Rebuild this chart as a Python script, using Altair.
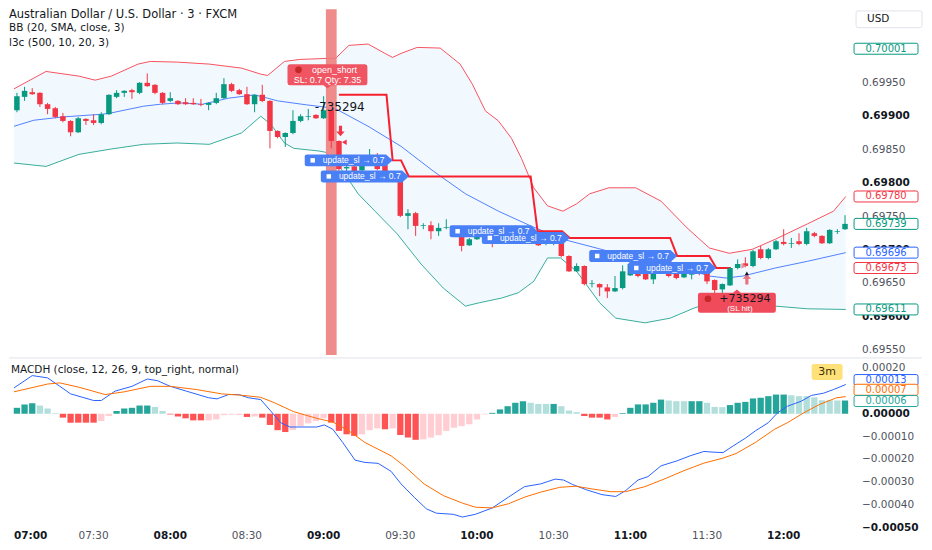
import altair as alt
import numpy as np
import pandas as pd

# ---------------- layout / style ----------------
W, H1, H2, GAP = 845, 346, 167, 1
X_DOMAIN = [-0.38, 108.4]
P_DOMAIN = [0.69543, 0.70060]
M_DOMAIN = [-0.00049, 0.00024]
FONT = "DejaVu Sans"
LFONT = "Liberation Sans"
INK = "#131722"
GREY = "#50535E"
GREEN, RED, BLUE, ORANGE = "#089981", "#F23645", "#2962FF", "#FF6D00"

# ---------------- data ----------------
TIME_TICKS = [0, 10, 20, 30, 40, 50, 60, 70, 80, 90, 100]
TIME_LABELS = ["07:00", "07:30", "08:00", "08:30", "09:00", "09:30",
               "10:00", "10:30", "11:00", "11:30", "12:00"]
PRICE_TICKS = [0.6955, 0.6960, 0.6965, 0.6970, 0.6975, 0.6980, 0.6985, 0.6990, 0.6995]
MACD_TICKS = [0.0002, 0.0, -0.0001, -0.0002, -0.0003, -0.0004, -0.0005]

# 3-minute candles, 07:00 ... 12:24
OPEN = [0.69909, 0.69929, 0.69936, 0.69935, 0.69918, 0.69912, 0.69900, 0.69893, 0.69876, 0.69896,
        0.69894, 0.69890, 0.69903, 0.69929, 0.69935, 0.69939, 0.69935, 0.69950, 0.69947, 0.69935,
        0.69923, 0.69923, 0.69921, 0.69920, 0.69918, 0.69917, 0.69920, 0.69927, 0.69948, 0.69939,
        0.69933, 0.69918, 0.69932, 0.69923, 0.69878, 0.69869, 0.69875, 0.69893, 0.69899, 0.69902,
        0.69897, 0.69909, 0.69863, 0.69822, 0.69825, 0.69819, 0.69834, 0.69842, 0.69827, 0.69806,
        0.69810, 0.69751, 0.69755, 0.69736, 0.69737, 0.69728, 0.69733, 0.69734, 0.69727, 0.69707,
        0.69716, 0.69724, 0.69731, 0.69713, 0.69724, 0.69731, 0.69733, 0.69725, 0.69713, 0.69709,
        0.69712, 0.69716, 0.69691, 0.69668, 0.69676, 0.69649, 0.69649, 0.69644, 0.69638, 0.69643,
        0.69662, 0.69676, 0.69668, 0.69656, 0.69665, 0.69685, 0.69664, 0.69659, 0.69663, 0.69665,
        0.69668, 0.69655, 0.69641, 0.69647, 0.69673, 0.69680, 0.69676, 0.69701, 0.69688, 0.69701,
        0.69712, 0.69709, 0.69713, 0.69709, 0.69725, 0.69721, 0.69710, 0.69727, 0.69731]
HIGH = [0.69935, 0.69944, 0.69942, 0.69936, 0.69920, 0.69914, 0.69905, 0.69894, 0.69899, 0.69897,
        0.69903, 0.69906, 0.69933, 0.69939, 0.69939, 0.69941, 0.69951, 0.69964, 0.69948, 0.69936,
        0.69936, 0.69924, 0.69927, 0.69927, 0.69926, 0.69921, 0.69935, 0.69957, 0.69950, 0.69941,
        0.69944, 0.69933, 0.69947, 0.69924, 0.69879, 0.69876, 0.69909, 0.69903, 0.69911, 0.69903,
        0.69930, 0.69911, 0.69864, 0.69836, 0.69840, 0.69836, 0.69851, 0.69845, 0.69828, 0.69815,
        0.69812, 0.69761, 0.69757, 0.69740, 0.69743, 0.69740, 0.69746, 0.69736, 0.69728, 0.69718,
        0.69725, 0.69734, 0.69733, 0.69725, 0.69733, 0.69737, 0.69734, 0.69727, 0.69715, 0.69716,
        0.69718, 0.69718, 0.69692, 0.69680, 0.69677, 0.69655, 0.69650, 0.69649, 0.69661, 0.69677,
        0.69680, 0.69685, 0.69670, 0.69667, 0.69685, 0.69686, 0.69665, 0.69665, 0.69671, 0.69667,
        0.69670, 0.69656, 0.69650, 0.69674, 0.69686, 0.69689, 0.69700, 0.69706, 0.69703, 0.69715,
        0.69731, 0.69718, 0.69725, 0.69733, 0.69727, 0.69722, 0.69731, 0.69731, 0.69752]
LOW = [0.69906, 0.69923, 0.69932, 0.69914, 0.69903, 0.69897, 0.69891, 0.69870, 0.69875, 0.69887,
       0.69887, 0.69888, 0.69902, 0.69927, 0.69929, 0.69926, 0.69933, 0.69944, 0.69933, 0.69918,
       0.69921, 0.69917, 0.69917, 0.69917, 0.69915, 0.69909, 0.69918, 0.69926, 0.69936, 0.69932,
       0.69917, 0.69906, 0.69921, 0.69852, 0.69867, 0.69854, 0.69873, 0.69891, 0.69894, 0.69896,
       0.69896, 0.69852, 0.69812, 0.69810, 0.69816, 0.69818, 0.69833, 0.69819, 0.69803, 0.69803,
       0.69749, 0.69731, 0.69721, 0.69731, 0.69716, 0.69721, 0.69731, 0.69724, 0.69698, 0.69706,
       0.69715, 0.69722, 0.69704, 0.69712, 0.69722, 0.69725, 0.69722, 0.69709, 0.69706, 0.69707,
       0.69707, 0.69689, 0.69667, 0.69667, 0.69647, 0.69644, 0.69631, 0.69628, 0.69637, 0.69641,
       0.69661, 0.69659, 0.69655, 0.69649, 0.69664, 0.69659, 0.69656, 0.69658, 0.69656, 0.69662,
       0.69649, 0.69635, 0.69634, 0.69646, 0.69671, 0.69674, 0.69674, 0.69686, 0.69686, 0.69700,
       0.69707, 0.69703, 0.69707, 0.69707, 0.69719, 0.69709, 0.69709, 0.69724, 0.69730]
CLOSE = [0.69930, 0.69938, 0.69933, 0.69918, 0.69911, 0.69899, 0.69893, 0.69876, 0.69897, 0.69893,
         0.69890, 0.69903, 0.69932, 0.69935, 0.69938, 0.69936, 0.69950, 0.69945, 0.69935, 0.69920,
         0.69927, 0.69918, 0.69918, 0.69918, 0.69917, 0.69920, 0.69927, 0.69948, 0.69938, 0.69933,
         0.69918, 0.69932, 0.69923, 0.69878, 0.69869, 0.69875, 0.69893, 0.69900, 0.69900, 0.69897,
         0.69909, 0.69863, 0.69821, 0.69824, 0.69818, 0.69834, 0.69842, 0.69821, 0.69807, 0.69810,
         0.69751, 0.69755, 0.69736, 0.69737, 0.69728, 0.69733, 0.69734, 0.69725, 0.69706, 0.69716,
         0.69724, 0.69731, 0.69709, 0.69724, 0.69731, 0.69733, 0.69724, 0.69710, 0.69707, 0.69710,
         0.69713, 0.69691, 0.69668, 0.69676, 0.69649, 0.69650, 0.69644, 0.69638, 0.69643, 0.69668,
         0.69679, 0.69661, 0.69656, 0.69665, 0.69683, 0.69661, 0.69658, 0.69664, 0.69664, 0.69664,
         0.69653, 0.69640, 0.69649, 0.69673, 0.69679, 0.69676, 0.69698, 0.69688, 0.69701, 0.69713,
         0.69709, 0.69710, 0.69709, 0.69728, 0.69721, 0.69710, 0.69730, 0.69728, 0.69739]

# Bollinger bands (20, 3) read at sample bars
UP_I = [-0.38, 3.8, 8.1, 10.2, 12.3, 15.8, 17.4, 20.9, 25.1, 29.3, 31.8, 32.7, 34.9, 36.9, 41.6,
        43.3, 45.8, 48, 49, 50.1, 52.2, 55.2, 57.8, 59.4, 61.1, 62.8, 64.5, 65.8, 67.4, 69.2,
        71.2, 73, 74.7, 77.2, 80.7, 84, 87.4, 90.3, 92.9, 95.9, 98.9, 103.1, 106.5, 108.1]
UP_P = [0.69941, 0.69967, 0.69960, 0.69954, 0.69960, 0.69978, 0.69982, 0.69981, 0.69978, 0.69972,
        0.69963, 0.69961, 0.69982, 0.69985, 0.69987, 0.70006, 0.70008, 0.69994, 0.69988, 0.69994,
        0.70003, 0.70002, 0.69978, 0.69948, 0.69908, 0.69893, 0.69867, 0.69837, 0.69793, 0.69766,
        0.69758, 0.69769, 0.69784, 0.69793, 0.69793, 0.69773, 0.69733, 0.69703, 0.69695, 0.69701,
        0.69716, 0.69739, 0.69758, 0.69780]
MID_I = [-0.38, 2.2, 6, 11.1, 12.3, 16.5, 18.7, 21.2, 24.2, 27.6, 31, 32.7, 34, 37.8, 40, 41.6,
         45.8, 50.1, 54.3, 58.5, 62.8, 67, 71.2, 77.2, 81.9, 86.1, 90.3, 92.5, 94.7, 98.9, 103.1, 108.1]
MID_P = [0.69885, 0.69894, 0.69899, 0.69903, 0.69905, 0.69915, 0.69918, 0.69920, 0.69918, 0.69927,
         0.69932, 0.69927, 0.69923, 0.69917, 0.69914, 0.69911, 0.69885, 0.69855, 0.69818, 0.69784,
         0.69758, 0.69736, 0.69716, 0.69698, 0.69688, 0.69676, 0.69661, 0.69658, 0.69661, 0.69673,
         0.69683, 0.69696]
LO_I = [-0.38, 3.8, 8.1, 12.3, 16.5, 20.9, 25.1, 29.3, 31.8, 33.1, 34.9, 36.1, 39.4, 40.3, 42.5,
        44.5, 46.7, 49.6, 52.7, 55.6, 58.5, 60.3, 63.2, 65.4, 67.4, 69.2, 70.9, 73, 76, 78.1,
        81.9, 85.2, 88.3, 91.2, 94.7, 98.9, 103.1, 108.1]
LO_P = [0.69830, 0.69825, 0.69843, 0.69851, 0.69858, 0.69860, 0.69858, 0.69875, 0.69900, 0.69888,
        0.69860, 0.69852, 0.69848, 0.69846, 0.69818, 0.69784, 0.69758, 0.69724, 0.69679, 0.69643,
        0.69616, 0.69621, 0.69628, 0.69636, 0.69653, 0.69688, 0.69688, 0.69668, 0.69621, 0.69598,
        0.69591, 0.69598, 0.69613, 0.69624, 0.69621, 0.69616, 0.69612, 0.69611]

# trailing stop of the short trade (vertices)
SL_I = [42, 48.2, 49.0, 50.1, 51.1, 67.0, 67.9, 71.1, 72.1, 85.2, 86.1, 90.3, 91.2, 93.1]
SL_P = [0.69932, 0.69932, 0.69834, 0.69834, 0.69810, 0.69810, 0.69728, 0.69728,
        0.69718, 0.69718, 0.69691, 0.69691, 0.69673, 0.69673]
UPDATE_AT = [2, 4, 6, 8, 10, 12]
UPDATE_TEXT = "update_sl \u2192 0.7"

ENTRY_BAND = [40.3, 41.7]
OPEN_SHORT_AT = [40.5, 0.69962]
ENTRY_TEXT_AT = [42.1, 0.69914]
SL_HIT_AT = [93.9, 0.69621]
SHORT_ARROW_AT = [42.2, 0.69878]
SHORT_FLAG_AT = [42.7, 0.69861]
EXIT_ARROW_AT = [95.2, 0.69656]
EXIT_DOT_AT = [95.2, 0.69665]
EXIT_FLAG_AT = [94.8, 0.69676]

PRICE_TAGS = [0.70001, 0.69780, 0.69739, 0.69696, 0.69673, 0.69611]
PRICE_TAG_COLORS = [GREEN, RED, GREEN, BLUE, RED, GREEN]

# MACD histogram (x1e-5) and tone (d = strengthening, l = weakening)
HIST_E5 = [2.6, 4.1, 4.6, 3.6, 2.3, 0.3, -1.7, -3.9, -3.9, -3.9,
           -3.9, -3.2, -1.0, 1.2, 2.3, 2.6, 3.6, 3.6, 3.0, 1.2,
           -0.3, -1.2, -2.0, -2.9, -2.9, -2.9, -2.5, -0.6, -0.4, -0.6,
           -1.4, -1.2, -1.7, -4.9, -7.2, -8.0, -7.1, -5.4, -4.2, -3.2,
           -2.0, -3.9, -7.5, -9.0, -9.7, -9.0, -7.2, -6.4, -6.8, -6.4,
           -9.3, -10.4, -11.4, -11.2, -10.4, -9.4, -7.5, -6.1, -5.4, -4.6,
           -2.5, -0.3, 0.4, 1.9, 3.3, 4.8, 5.5, 4.8, 4.3, 4.3,
           4.3, 3.3, 1.4, 0.7, -1.0, -1.7, -1.7, -2.5, -1.4, 0.3,
           2.6, 4.1, 4.1, 4.8, 6.2, 5.8, 5.5, 5.5, 5.5, 5.5,
           4.8, 3.0, 2.9, 3.8, 4.8, 5.2, 6.7, 7.0, 7.7, 8.4,
           8.4, 8.1, 7.7, 7.7, 7.2, 5.9, 5.9, 5.8, 5.8]
HIST_TONE = ("dddllldddd" "dlldddddll" "dddddlllll" "dlddddllll" "lddddllldl"
             "dddlllllll" "lldddddlll" "dlllddddld" "dddddllldd" "lllddddddd" "dllllllld")
MACD_I = [-0.38, 2, 4, 5.6, 7, 10, 11, 12.8, 15, 17, 18.3, 20, 22.1, 25, 26.1, 27.6, 28.9, 30.2,
          31.8, 33.1, 34.4, 35.6, 37.8, 39.1, 40.1, 41.2, 42.5, 44.1, 45.4, 47.1, 48.8, 50.1,
          51.8, 53.4, 54.7, 56.9, 58.1, 59.8, 62, 64.1, 66.2, 68.3, 70.2, 71.3, 72.5, 74.3,
          76.3, 78.1, 79.4, 81, 82.3, 84, 86.1, 87.8, 89.6, 90.8, 92.1, 93.4, 95, 96.3, 98,
          99.2, 100.5, 102.3, 103.6, 105.2, 106.5, 108.1]
MACD_E5 = [11.3, 16.7, 15.7, 12.0, 8.7, 5.8, 5.8, 9.9, 12.0, 15.2, 14.5, 12.0, 9.9, 7.0, 6.5,
           8.4, 8.4, 7.0, 6.2, 1.2, -3.9, -5.8, -5.8, -5.8, -4.9, -6.8, -12.6, -20.3, -21.3,
           -21.7, -25.2, -30.7, -36.5, -41.6, -43.5, -44.0, -45.2, -44.0, -41.2, -36.5, -31.9,
           -30.7, -28.6, -29.0, -31.0, -33.3, -35.4, -36.2, -33.6, -29.0, -27.5, -22.8, -20.6,
           -18.4, -16.5, -16.8, -17.0, -14.1, -10.7, -7.5, -3.9, 0.4, 3.3, 5.5, 8.0, 9.0, 10.6, 12.8]
SIG_I = [-0.38, 4, 5.6, 8.1, 11.5, 14, 17.4, 20, 23.4, 26.7, 29.3, 31.8, 33.6, 36.1, 39.1, 41.2,
         43.3, 45.4, 48.8, 50.5, 53.1, 55.6, 58.1, 59.8, 62, 64.1, 66.2, 68.3, 70.8, 72.9, 75,
         77.4, 79.4, 81.9, 84.4, 87, 89.6, 92.1, 93.8, 96.3, 98.8, 100.5, 102.6, 104.7, 106.9, 108.1]
SIG_E5 = [9.6, 13.0, 13.5, 11.6, 8.4, 9.6, 12.0, 12.0, 10.6, 8.7, 8.1, 7.2, 4.8, 0.9, -2.0, -3.6,
          -7.5, -12.6, -18.4, -22.8, -30.7, -35.8, -39.1, -40.9, -41.2, -39.4, -36.5, -34.3,
          -32.2, -31.7, -32.9, -34.1, -34.1, -31.9, -28.6, -24.9, -21.6, -19.4, -17.4, -12.6,
          -6.8, -3.9, 0.4, 4.1, 7.0, 7.5]
MACD_TAGS = [0.00013, 0.00007, 0.00006]
MACD_TAG_COLORS = [BLUE, ORANGE, "#26A69A"]
MACD_TAG_SHIFT = [-4, -8, 1]

# ---------------- shapes ----------------
TAG_PATH = ("M-0.94,-0.172 L0.94,-0.172 Q1,-0.172 1,-0.12 L1,0.12 Q1,0.172 0.94,0.172 "
            "L-0.94,0.172 Q-1,0.172 -1,0.12 L-1,-0.12 Q-1,-0.172 -0.94,-0.172 Z")
UPD_PATH = ("M-0.95,-0.136 L0.85,-0.136 L1,0 L0.85,0.136 L-0.95,0.136 "
            "Q-1,0.136 -1,0.09 L-1,-0.09 Q-1,-0.136 -0.95,-0.136 Z")
OPEN_PATH = ("M-0.94,-0.2625 L0.94,-0.2625 Q1,-0.2625 1,-0.2 L1,0.2 Q1,0.2625 0.94,0.2625 "
             "L0.1,0.2625 L0,0.34 L-0.1,0.2625 L-0.94,0.2625 Q-1,0.2625 -1,0.2 L-1,-0.2 "
             "Q-1,-0.2625 -0.94,-0.2625 Z")
HIT_PATH = ("M-0.94,-0.256 L-0.1,-0.256 L0,-0.34 L0.1,-0.256 L0.94,-0.256 Q1,-0.256 1,-0.2 "
            "L1,0.2 Q1,0.256 0.94,0.256 L-0.94,0.256 Q-1,0.256 -1,0.2 L-1,-0.2 "
            "Q-1,-0.256 -0.94,-0.256 Z")
USD_PATH = ("M-0.94,-0.254 L0.94,-0.254 Q1,-0.254 1,-0.19 L1,0.19 Q1,0.254 0.94,0.254 "
            "L-0.94,0.254 Q-1,0.254 -1,0.19 L-1,-0.19 Q-1,-0.254 -0.94,-0.254 Z")
BOX3M_PATH = ("M-0.85,-0.516 L0.85,-0.516 Q1,-0.516 1,-0.37 L1,0.37 Q1,0.516 0.85,0.516 "
              "L-0.85,0.516 Q-1,0.516 -1,0.37 L-1,-0.37 Q-1,-0.516 -0.85,-0.516 Z")
ARROW_DOWN = "M-0.3,-1 L0.3,-1 L0.3,0.1 L0.8,0.1 L0,1 L-0.8,0.1 L-0.3,0.1 Z"
ARROW_UP = "M-0.3,1 L0.3,1 L0.3,-0.1 L0.8,-0.1 L0,-1 L-0.8,-0.1 L-0.3,-0.1 Z"

# ---------------- helpers ----------------
xs = alt.Scale(domain=X_DOMAIN, nice=False, zero=False)
ps = alt.Scale(domain=P_DOMAIN, nice=False, zero=False)
ms = alt.Scale(domain=M_DOMAIN, nice=False, zero=False)


def X(f="i"):
    return alt.X(f"{f}:Q", scale=xs, axis=None)


def PY(f="p"):
    return alt.Y(f"{f}:Q", scale=ps, axis=None)


def MY(f="v"):
    return alt.Y(f"{f}:Q", scale=ms, axis=None)


ONE = pd.DataFrame({"k": [0]})


def at(pos):
    return pd.DataFrame({"i": [pos[0]], "p": [pos[1]]})


def tick_text(df, yenc, bold):
    return alt.Chart(df).mark_text(font=FONT, fontSize=10.5, align="left", baseline="middle",
                                   color=INK if bold else GREY,
                                   fontWeight="bold" if bold else "normal").encode(
        x=alt.value(W + 9), y=yenc, text="lab:N")


# ---------------- price panel ----------------
cdf = pd.DataFrame({"i": np.arange(len(OPEN)), "o": OPEN, "h": HIGH, "l": LOW, "c": CLOSE})
cdf["dir"] = np.where(cdf["c"] >= cdf["o"], "up", "down")
ccol = alt.Color("dir:N", scale=alt.Scale(domain=["up", "down"], range=[GREEN, RED]), legend=None)

up_df = pd.DataFrame({"i": UP_I, "p": UP_P})
mid_df = pd.DataFrame({"i": MID_I, "p": MID_P})
lo_df = pd.DataFrame({"i": LO_I, "p": LO_P})
poly = pd.concat([up_df, lo_df.iloc[::-1]], ignore_index=True)
poly["ord"] = np.arange(len(poly))

bb_fill = alt.Chart(poly).mark_line(interpolate="linear-closed", filled=True, color="#2196F3",
                                     opacity=0.06, strokeWidth=0).encode(
    x=X(), y=PY(), order=alt.Order("ord:Q"))
bb_up = alt.Chart(up_df).mark_line(color="#F7525F", strokeWidth=1).encode(x=X(), y=PY())
bb_mid = alt.Chart(mid_df).mark_line(color="#2962FF", strokeWidth=1, opacity=0.8).encode(x=X(), y=PY())
bb_lo = alt.Chart(lo_df).mark_line(color="#089981", strokeWidth=1, opacity=0.8).encode(x=X(), y=PY())

band = alt.Chart(pd.DataFrame({"a": [ENTRY_BAND[0]], "b": [ENTRY_BAND[1]]})).mark_rect(
    color="#EE7B7B", opacity=0.88).encode(
    x=alt.X("a:Q", scale=xs, axis=None), x2="b", y=alt.value(0), y2=alt.value(H1))

sl_df = pd.DataFrame({"i": SL_I, "p": SL_P})
sl_df["ord"] = np.arange(len(sl_df))
sl_line = alt.Chart(sl_df).mark_line(color="#F7202F", strokeWidth=2).encode(
    x=X(), y=PY(), order=alt.Order("ord:Q"))

wicks = alt.Chart(cdf).mark_rule(strokeWidth=1).encode(x=X(), y=PY("l"), y2="h", color=ccol)
bodies = alt.Chart(cdf).mark_bar(size=5.5, orient="vertical").encode(
    x=X(), y=PY("o"), y2="c", color=ccol)

upd_df = sl_df.iloc[UPDATE_AT].reset_index(drop=True)
upd_box = alt.Chart(upd_df).mark_point(shape=UPD_PATH, size=88 * 88, filled=True, color="#4A80F5",
                                       opacity=1, xOffset=-44).encode(x=X(), y=PY())
upd_icon = alt.Chart(upd_df).mark_point(shape="square", size=20, filled=True, color="white",
                                        opacity=1, xOffset=-80).encode(x=X(), y=PY())
upd_txt = alt.Chart(upd_df).mark_text(text=UPDATE_TEXT, color="white", font=LFONT, fontSize=8.5,
                                      align="center", baseline="middle", dx=-39).encode(x=X(), y=PY())

open_df = at(OPEN_SHORT_AT)
open_box = alt.Chart(open_df).mark_point(shape=OPEN_PATH, size=80 * 80, filled=True,
                                         color="#F05563", opacity=1).encode(x=X(), y=PY())
open_icon = alt.Chart(open_df).mark_point(shape="circle", size=45, filled=True, color="#C62828",
                                          opacity=1, xOffset=-29, yOffset=-5).encode(x=X(), y=PY())
open_t1 = alt.Chart(open_df).mark_text(text="open_short", color="white", font=LFONT, fontSize=9,
                                       dx=7, dy=-5).encode(x=X(), y=PY())
open_t2 = alt.Chart(open_df).mark_text(text="SL: 0.7  Qty: 7.35", color="white", font=LFONT,
                                       fontSize=9, dy=5).encode(x=X(), y=PY())

entry_txt = alt.Chart(at(ENTRY_TEXT_AT)).mark_text(text="-735294", color=INK, font=FONT,
                                                   fontSize=12).encode(x=X(), y=PY())

hit_df = at(SL_HIT_AT)
hit_box = alt.Chart(hit_df).mark_point(shape=HIT_PATH, size=78 * 78, filled=True,
                                       color="#F04B5B", opacity=1).encode(x=X(), y=PY())
hit_icon = alt.Chart(hit_df).mark_point(shape="circle", size=45, filled=True, color="#C62828",
                                        opacity=1, xOffset=-29, yOffset=-4).encode(x=X(), y=PY())
hit_t1 = alt.Chart(hit_df).mark_text(text="+735294", color=INK, font=FONT, fontSize=11,
                                     dx=8, dy=-4).encode(x=X(), y=PY())
hit_t2 = alt.Chart(hit_df).mark_text(text="(SL hit)", color="white", font=LFONT, fontSize=8,
                                     dx=3, dy=6).encode(x=X(), y=PY())

short_arrow = alt.Chart(at(SHORT_ARROW_AT)).mark_point(shape=ARROW_DOWN, size=110, filled=True,
                                                       color=RED, opacity=1).encode(x=X(), y=PY())
short_flag = alt.Chart(at(SHORT_FLAG_AT)).mark_point(shape="triangle-left", size=30, filled=True,
                                                     color=RED, opacity=1).encode(x=X(), y=PY())
exit_arrow = alt.Chart(at(EXIT_ARROW_AT)).mark_point(shape=ARROW_UP, size=110, filled=True,
                                                     color="#E8707F", opacity=1).encode(x=X(), y=PY())
exit_dot = alt.Chart(at(EXIT_DOT_AT)).mark_point(shape="triangle-up", size=18, filled=True,
                                                 color=INK, opacity=1).encode(x=X(), y=PY())
exit_flag = alt.Chart(at(EXIT_FLAG_AT)).mark_point(shape="triangle-right", size=30, filled=True,
                                                   color="#EE8A9A", opacity=1).encode(x=X(), y=PY())

# price scale tick labels (right side)
ptk = pd.DataFrame({"p": PRICE_TICKS, "lab": [f"{v:.5f}" for v in PRICE_TICKS]})
ptk["major"] = [abs(v * 1000 - round(v * 1000)) < 1e-6 for v in PRICE_TICKS]
ptick_major = tick_text(ptk[ptk.major], PY(), True)
ptick_minor = tick_text(ptk[~ptk.major], PY(), False)

ptag_df = pd.DataFrame({"p": PRICE_TAGS, "col": PRICE_TAG_COLORS})
ptag_df["lab"] = [f"{v:.5f}" for v in PRICE_TAGS]
ptag_box = alt.Chart(ptag_df).mark_point(shape=TAG_PATH, size=64 * 64, strokeWidth=1, opacity=1).encode(
    x=alt.value(W + 33), y=PY(), fill=alt.value("white"), stroke=alt.Stroke("col:N", scale=None))
ptag_txt = alt.Chart(ptag_df).mark_text(font=FONT, fontSize=10, baseline="middle").encode(
    x=alt.value(W + 33), y=PY(), text="lab:N", color=alt.Color("col:N", scale=None))

title1 = alt.Chart(ONE).mark_text(text="Australian Dollar / U.S. Dollar \u00b7 3 \u00b7 FXCM",
                                  font=FONT, fontSize=11.5, color=INK, align="left", baseline="top").encode(
    x=alt.value(0), y=alt.value(0))
title2 = alt.Chart(ONE).mark_text(text="BB (20, SMA, close, 3)", font=FONT, fontSize=10.5, color=INK,
                                  align="left", baseline="top").encode(x=alt.value(0), y=alt.value(14))
title3 = alt.Chart(ONE).mark_text(text="l3c (500, 10, 20, 3)", font=FONT, fontSize=10.5, color=INK,
                                  align="left", baseline="top").encode(x=alt.value(0), y=alt.value(29))
usd_box = alt.Chart(ONE).mark_point(shape=USD_PATH, size=66 * 66, strokeWidth=1, opacity=1).encode(
    x=alt.value(W + 36), y=alt.value(10), fill=alt.value("white"), stroke=alt.value("#E0E3EB"))
usd_txt = alt.Chart(ONE).mark_text(text="USD", font=FONT, fontSize=10.5, color=INK, align="left",
                                   baseline="middle").encode(x=alt.value(W + 14), y=alt.value(10))

price_panel = alt.layer(
    bb_fill, bb_up, bb_mid, bb_lo, band, sl_line, wicks, bodies,
    upd_box, upd_icon, upd_txt, open_box, open_icon, open_t1, open_t2, entry_txt,
    hit_box, hit_icon, hit_t1, hit_t2, short_arrow, short_flag, exit_arrow, exit_dot, exit_flag,
    ptick_major, ptick_minor, ptag_box, ptag_txt, title1, title2, title3, usd_box, usd_txt,
).properties(width=W, height=H1)

# ---------------- MACD panel ----------------
hdf = pd.DataFrame({"i": np.arange(len(HIST_E5)), "v": np.array(HIST_E5) * 1e-5,
                    "tone": list(HIST_TONE)})
hdf["col"] = np.select(
    [(hdf.v >= 0) & (hdf.tone == "d"), (hdf.v >= 0) & (hdf.tone == "l"),
     (hdf.v < 0) & (hdf.tone == "d")],
    ["#26A69A", "#B2DFDB", "#FF5252"], default="#FFCDD2")

hist = alt.Chart(hdf).mark_bar(size=6.3, orient="vertical").encode(
    x=X(), y=MY(), color=alt.Color("col:N", scale=None))
macd_line = alt.Chart(pd.DataFrame({"i": MACD_I, "v": np.array(MACD_E5) * 1e-5})).mark_line(
    color="#2962FF", strokeWidth=1).encode(x=X(), y=MY())
sig_line = alt.Chart(pd.DataFrame({"i": SIG_I, "v": np.array(SIG_E5) * 1e-5})).mark_line(
    color=ORANGE, strokeWidth=1).encode(x=X(), y=MY())

mtk = pd.DataFrame({"v": MACD_TICKS,
                    "lab": [f"{v:.5f}".replace("-", "\u2212") for v in MACD_TICKS]})
mtk["major"] = [(v == 0) or (v < -0.00049) for v in MACD_TICKS]
mtick_major = tick_text(mtk[mtk.major], MY(), True)
mtick_minor = tick_text(mtk[~mtk.major], MY(), False)

# time labels under the MACD pane
ttk = pd.DataFrame({"i": TIME_TICKS, "lab": TIME_LABELS})
ttk["major"] = [t % 20 == 0 for t in TIME_TICKS]
first = ttk.iloc[[0]]
rest = ttk.iloc[1:]
TY = H2 + 10
time_first = alt.Chart(first).mark_text(font=FONT, fontSize=10.5, align="left", baseline="middle",
                                        color=INK, fontWeight="bold", dx=-3).encode(
    x=X(), y=alt.value(TY), text="lab:N")
time_major = alt.Chart(rest[rest.major]).mark_text(font=FONT, fontSize=10.5, baseline="middle",
                                                   color=INK, fontWeight="bold").encode(
    x=X(), y=alt.value(TY), text="lab:N")
time_minor = alt.Chart(rest[~rest.major]).mark_text(font=FONT, fontSize=10.5, baseline="middle",
                                                    color=GREY).encode(
    x=X(), y=alt.value(TY), text="lab:N")

mtag_layers = []
for val, col, sh in zip(MACD_TAGS, MACD_TAG_COLORS, MACD_TAG_SHIFT):
    d = pd.DataFrame({"v": [val], "lab": [f"{val:.5f}"]})
    mtag_layers.append(alt.Chart(d).mark_point(shape=TAG_PATH, size=64 * 64, strokeWidth=1, opacity=1,
                                               fill="white", stroke=col, yOffset=sh).encode(
        x=alt.value(W + 33), y=MY()))
    mtag_layers.append(alt.Chart(d).mark_text(font=FONT, fontSize=10, baseline="middle", color=col,
                                              yOffset=sh).encode(
        x=alt.value(W + 33), y=MY(), text="lab:N"))

macd_title = alt.Chart(ONE).mark_text(text="MACDH (close, 12, 26, 9, top_right, normal)", font=FONT,
                                      fontSize=10.5, color=INK, align="left", baseline="top").encode(
    x=alt.value(2), y=alt.value(6))
box3m = alt.Chart(ONE).mark_point(shape=BOX3M_PATH, size=31 * 31, filled=True, color="#FFE17A",
                                  opacity=1).encode(x=alt.value(W - 26), y=alt.value(13))
txt3m = alt.Chart(ONE).mark_text(text="3m", font=FONT, fontSize=11, color="#3A2E00",
                                 baseline="middle").encode(x=alt.value(W - 26), y=alt.value(13))
sep = alt.Chart(ONE).mark_rule(color="#E0E3EB", strokeWidth=1).encode(
    x=alt.value(0), x2=alt.value(W + 69), y=alt.value(-1))

macd_panel = alt.layer(
    hist, macd_line, sig_line, mtick_major, mtick_minor, *mtag_layers,
    time_first, time_major, time_minor, macd_title, box3m, txt3m, sep
).properties(width=W, height=H2)

chart = alt.vconcat(price_panel, macd_panel, spacing=GAP, padding=0, background="white"
                    ).configure_view(stroke=None)

chart.save("out.html", embed_options={"renderer": "svg", "actions": False})
